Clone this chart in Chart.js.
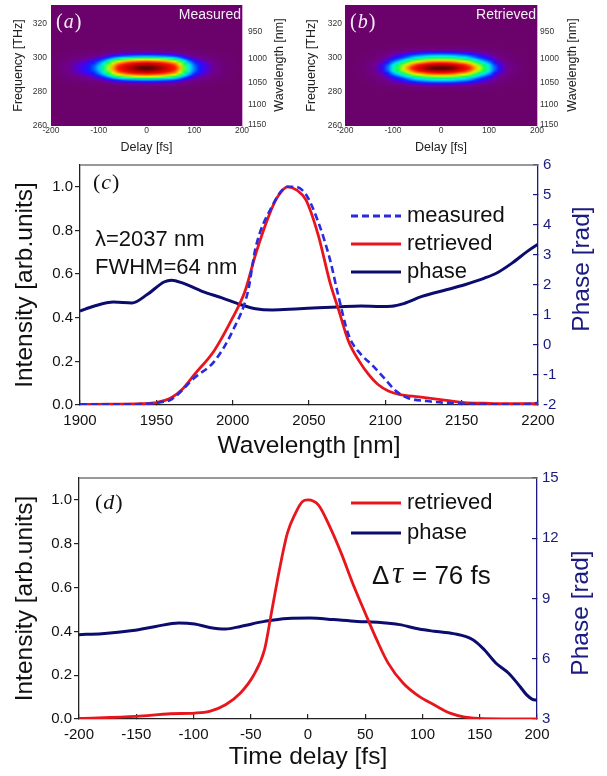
<!DOCTYPE html>
<html>
<head>
<meta charset="utf-8">
<title>FROG traces, spectrum and pulse</title>
<script src="https://cdn.jsdelivr.net/npm/chart.js"></script>
<style>
  body { margin: 0; background: #fff; }
  #page { position: relative; width: 607px; height: 776px; overflow: hidden; background: #fff; }
  canvas { position: absolute; }
</style>
</head>
<body>
<div id="page">
  <canvas id="chartA" width="300" height="155" style="left:0;top:0"></canvas>
  <canvas id="chartB" width="307" height="155" style="left:300px;top:0"></canvas>
  <canvas id="chartC" width="607" height="306" style="left:0;top:155px"></canvas>
  <canvas id="chartD" width="607" height="316" style="left:0;top:460px"></canvas>
</div>
<script>
// ---- (a)/(b) FROG traces: delay profile x frequency profile ----
const heatDelay = [-200, -190, -180, -170, -160, -150, -140, -130, -120, -110, -100, -90, -80, -70, -60, -50, -40, -30, -20, -10,
    0, 10, 20, 30, 40, 50, 60, 70, 80, 90, 100, 110, 120, 130, 140, 150, 160, 170, 180, 190, 200];
const heatFreq = [280, 281, 282, 283, 284, 285, 286, 287, 288, 289, 290, 291, 292, 293, 294,
    295, 296, 297, 298, 299, 300, 301, 302, 303, 304, 305, 306, 307, 308];

const measDelayProfile = [0.02, 0.03, 0.05, 0.08, 0.11, 0.14, 0.17, 0.2, 0.23, 0.28, 0.35, 0.44, 0.56, 0.68, 0.79, 0.85, 0.9, 0.94, 0.97, 0.99,
    1.0, 0.99, 0.97, 0.94, 0.9, 0.85, 0.79, 0.66, 0.52, 0.4, 0.3, 0.24, 0.19, 0.15, 0.11, 0.08, 0.05, 0.03, 0.02, 0.01, 0.0];
const measFreqProfile = [0, 0.01, 0.02, 0.04, 0.08, 0.14, 0.22, 0.32, 0.45, 0.6, 0.74, 0.85, 0.93, 0.98, 1.0,
    0.98, 0.93, 0.85, 0.74, 0.6, 0.45, 0.32, 0.22, 0.14, 0.08, 0.04, 0.02, 0.01, 0];

const retDelayProfile = [0.0, 0.0, 0.01, 0.02, 0.04, 0.07, 0.1, 0.15, 0.21, 0.3, 0.41, 0.49, 0.58, 0.68, 0.78, 0.85, 0.9, 0.95, 0.98, 0.995,
    1.0, 0.995, 0.98, 0.95, 0.9, 0.85, 0.78, 0.68, 0.58, 0.49, 0.41, 0.3, 0.21, 0.15, 0.1, 0.07, 0.04, 0.02, 0.01, 0.0, 0.0];
const retFreqProfile = [0, 0.02, 0.04, 0.08, 0.14, 0.22, 0.3, 0.38, 0.45, 0.56, 0.68, 0.79, 0.9, 0.97, 1.0,
    0.97, 0.9, 0.79, 0.68, 0.56, 0.45, 0.38, 0.3, 0.22, 0.14, 0.08, 0.04, 0.02, 0];

const freqTicks = [260, 280, 300, 320];
const wavelengthTicks = [950, 1000, 1050, 1100, 1150];
const LIGHT_C = 299792.458; // nm * THz

// ---- (c) spectrum ----
const specMeasX = [1900, 1930, 1945, 1952, 1960, 1975, 1988, 2000, 2010, 2015, 2025, 2036, 2041, 2048, 2056, 2064, 2069, 2076, 2084, 2091, 2099, 2107, 2114, 2127, 2152, 2178, 2195, 2200];
const specMeasY = [0.003, 0.003, 0.006, 0.012, 0.026, 0.125, 0.2, 0.34, 0.52, 0.72, 0.9, 1.0, 1.0, 0.965, 0.84, 0.66, 0.507, 0.32, 0.232, 0.186, 0.125, 0.064, 0.034, 0.018, 0.006, 0.003, 0.005, 0.01];

const specRetX = [1900, 1920, 1940, 1950, 1960, 1967, 1975, 1988, 2000, 2008, 2015, 2025, 2030, 2036, 2042, 2048, 2056, 2064, 2069, 2076, 2083, 2089, 2095, 2102, 2109, 2122, 2140, 2152, 2165, 2178, 2200];
const specRetY = [0.003, 0.004, 0.006, 0.011, 0.034, 0.072, 0.14, 0.25, 0.4, 0.52, 0.69, 0.89, 0.96, 1.0, 0.985, 0.94, 0.78, 0.555, 0.445, 0.29, 0.2, 0.14, 0.095, 0.064, 0.049, 0.037, 0.021, 0.011, 0.008, 0.006, 0.006];

const specPhaseX = [1900, 1909, 1922, 1934, 1944, 1955, 1960, 1967, 1980, 1993, 2005, 2015, 2026, 2041, 2056, 2069, 2084, 2097, 2104, 2112, 2124, 2140, 2152, 2165, 2173, 2183, 2193, 2200];
const specPhaseY = [1.13, 1.29, 1.43, 1.40, 1.68, 2.10, 2.16, 2.07, 1.79, 1.57, 1.35, 1.21, 1.17, 1.20, 1.24, 1.27, 1.30, 1.28, 1.29, 1.38, 1.62, 1.84, 2.01, 2.23, 2.40, 2.73, 3.12, 3.36];

// ---- (d) temporal pulse ----
const pulseX = [-200, -150, -120, -99, -86, -72, -59, -48, -38, -32, -25, -18, -11, -5, 0, 9, 19, 29, 39, 50, 60, 70, 83, 97, 110, 124, 137, 154, 200];
const pulseY = [0.003, 0.012, 0.024, 0.027, 0.035, 0.065, 0.119, 0.195, 0.316, 0.483, 0.68, 0.848, 0.939, 0.992, 1.0, 0.977, 0.878, 0.757, 0.62, 0.483, 0.362, 0.255, 0.164, 0.103, 0.065, 0.027, 0.009, 0.0015, 0];

const pulsePhaseX = [-200, -180, -153, -133, -113, -99, -86, -72, -59, -38, -18, 2, 22, 43, 63, 80, 97, 110, 127, 144, 154, 164, 175, 185, 191, 196, 200];
const pulsePhaseY = [7.20, 7.25, 7.41, 7.61, 7.78, 7.73, 7.56, 7.48, 7.61, 7.86, 8.01, 8.03, 7.95, 7.86, 7.81, 7.70, 7.48, 7.37, 7.25, 6.95, 6.45, 5.79, 5.29, 4.63, 4.2, 3.98, 3.93];

// ---- styling ----
const SANS = '"Liberation Sans", Arial, sans-serif';
const SERIF = '"Liberation Serif", "DejaVu Serif", serif';
const RED = '#e8161c';
const DASH_BLUE = '#2a2ade';
const NAVY = '#0c0c6e';
const NAVY_TEXT = '#1a1a80';
const TITLE_SIZE = 24.5;

Chart.defaults.font.family = SANS;

const CMAP = [
    [0.00, [107, 2, 107]],
    [0.10, [112, 0, 140]],
    [0.18, [70, 0, 240]],
    [0.24, [0, 40, 255]],
    [0.32, [0, 160, 255]],
    [0.38, [0, 240, 240]],
    [0.47, [0, 255, 80]],
    [0.59, [225, 255, 0]],
    [0.70, [255, 140, 0]],
    [0.79, [255, 20, 0]],
    [0.91, [200, 0, 0]],
    [1.00, [90, 0, 0]]
];

function colormap(v) {
    v = Math.max(0, Math.min(1, v));
    for (let i = 1; i < CMAP.length; i++) {
        if (v <= CMAP[i][0]) {
            const v0 = CMAP[i - 1][0], c0 = CMAP[i - 1][1];
            const v1 = CMAP[i][0], c1 = CMAP[i][1];
            const t = (v - v0) / (v1 - v0);
            return c0.map((c, k) => Math.round(c + (c1[k] - c) * t));
        }
    }
    return CMAP[CMAP.length - 1][1];
}

function toPoints(xs, ys) {
    return xs.map((x, i) => ({ x: x, y: ys[i] }));
}

// fixed axis sizes, and no extra room for the end labels
function fixWidth(w) {
    return function(scale) { scale.width = w; scale.paddingTop = 0; scale.paddingBottom = 0; };
}
function fixHeight(h) {
    return function(scale) { scale.height = h; scale.paddingLeft = 0; scale.paddingRight = 0; };
}

// "(c)" style label: upright brackets, italic letter
function drawPanelLabel(ctx, letter, x, y, size, color) {
    ctx.fillStyle = color;
    ctx.textBaseline = 'middle';
    ctx.textAlign = 'left';
    ctx.font = size + 'px ' + SERIF;
    ctx.fillText('(', x, y);
    x += ctx.measureText('(').width;
    ctx.font = 'italic ' + size + 'px ' + SERIF;
    ctx.fillText(letter, x + 1, y);
    x += ctx.measureText(letter).width + 2;
    ctx.font = size + 'px ' + SERIF;
    ctx.fillText(')', x, y);
}

function drawVerticalText(ctx, text, x, y, font, color) {
    ctx.save();
    ctx.translate(x, y);
    ctx.rotate(-Math.PI / 2);
    ctx.font = font;
    ctx.fillStyle = color;
    ctx.textAlign = 'center';
    ctx.textBaseline = 'middle';
    ctx.fillText(text, 0, 0);
    ctx.restore();
}

function drawLegendEntry(ctx, y, label, color, dash) {
    ctx.save();
    ctx.strokeStyle = color;
    ctx.lineWidth = 3;
    ctx.setLineDash(dash || []);
    ctx.beginPath();
    ctx.moveTo(351, y);
    ctx.lineTo(401, y);
    ctx.stroke();
    ctx.restore();
    ctx.font = '22px ' + SANS;
    ctx.fillStyle = '#111';
    ctx.textAlign = 'left';
    ctx.textBaseline = 'middle';
    ctx.fillText(label, 407, y);
}

function drawTopBorder(chart) {
    const ctx = chart.ctx, a = chart.chartArea;
    ctx.save();
    ctx.strokeStyle = '#777';
    ctx.lineWidth = 1.3;
    ctx.beginPath();
    ctx.moveTo(a.left, a.top);
    ctx.lineTo(a.right, a.top);
    ctx.stroke();
    ctx.restore();
}

// ---- heatmap panels ----
function heatmapPlugin(delayProfile, freqProfile) {
    return {
        id: 'heatmap',
        beforeDraw(chart) {
            const ctx = chart.ctx, a = chart.chartArea;
            const xs = chart.scales.x, ys = chart.scales.y;
            ctx.save();
            ctx.beginPath();
            ctx.rect(a.left, a.top, a.right - a.left, a.bottom - a.top);
            ctx.clip();
            const bg = colormap(0);
            ctx.fillStyle = 'rgb(' + bg.join(',') + ')';
            ctx.fillRect(a.left, a.top, a.right - a.left, a.bottom - a.top);

            // one pixel per cell, highest frequency on the top row
            const off = document.createElement('canvas');
            off.width = heatDelay.length;
            off.height = heatFreq.length;
            const octx = off.getContext('2d');
            const img = octx.createImageData(off.width, off.height);
            for (let j = 0; j < heatFreq.length; j++) {
                const row = heatFreq.length - 1 - j;
                for (let i = 0; i < heatDelay.length; i++) {
                    const c = colormap(delayProfile[i] * freqProfile[j]);
                    const k = (row * off.width + i) * 4;
                    img.data[k] = c[0];
                    img.data[k + 1] = c[1];
                    img.data[k + 2] = c[2];
                    img.data[k + 3] = 255;
                }
            }
            octx.putImageData(img, 0, 0);

            const dStep = heatDelay[1] - heatDelay[0];
            const fStep = heatFreq[1] - heatFreq[0];
            const x0 = xs.getPixelForValue(heatDelay[0] - dStep / 2);
            const x1 = xs.getPixelForValue(heatDelay[heatDelay.length - 1] + dStep / 2);
            const y0 = ys.getPixelForValue(heatFreq[heatFreq.length - 1] + fStep / 2);
            const y1 = ys.getPixelForValue(heatFreq[0] - fStep / 2);
            ctx.imageSmoothingEnabled = true;
            ctx.imageSmoothingQuality = 'high';
            ctx.drawImage(off, x0, y0, x1 - x0, y1 - y0);
            ctx.restore();
        }
    };
}

function heatLabelsPlugin(letter, name, rightTitleX) {
    return {
        id: 'heatLabels',
        afterDraw(chart) {
            const ctx = chart.ctx, a = chart.chartArea;
            ctx.save();
            drawPanelLabel(ctx, letter, a.left + 5, 23, 20, '#f6eef6');
            ctx.font = '14px ' + SANS;
            ctx.fillStyle = '#f6eef6';
            ctx.textAlign = 'right';
            ctx.textBaseline = 'middle';
            ctx.fillText(name, a.right - 1, 15);
            drawVerticalText(ctx, 'Wavelength [nm]', rightTitleX, 65, '12.5px ' + SANS, '#222');
            ctx.restore();
        }
    };
}

function createHeatChart(id, delayProfile, freqProfile, letter, name, dims) {
    const tickFont = { size: 8.5 };
    return new Chart(document.getElementById(id), {
        type: 'scatter',
        data: { datasets: [{ data: [] }] },
        options: {
            responsive: false,
            animation: false,
            layout: { padding: { top: 5, right: dims.padRight, left: 0, bottom: 0 } },
            plugins: { legend: { display: false }, tooltip: { enabled: false } },
            scales: {
                x: {
                    type: 'linear', min: -200, max: 200,
                    ticks: { stepSize: 100, font: tickFont, color: '#333', padding: 0, callback: v => v },
                    grid: { display: false, drawTicks: false },
                    border: { display: false },
                    title: { display: true, text: 'Delay [fs]', font: { size: 12.5 }, color: '#222', padding: 0 },
                    afterFit: fixHeight(29)
                },
                y: {
                    type: 'linear', position: 'left', min: 260, max: 331,
                    afterBuildTicks: s => { s.ticks = freqTicks.map(v => ({ value: v })); },
                    ticks: { font: tickFont, color: '#333', padding: dims.leftPad, callback: v => v },
                    grid: { display: false, drawTicks: false },
                    border: { display: false },
                    title: { display: true, text: 'Frequency [THz]', font: { size: 12.5 }, color: '#222', padding: { top: dims.leftTitlePad, bottom: 0 } },
                    afterFit: fixWidth(dims.leftWidth)
                },
                y2: {
                    type: 'linear', position: 'right', min: 260, max: 331,
                    afterBuildTicks: s => { s.ticks = wavelengthTicks.map(w => ({ value: LIGHT_C / w })); },
                    ticks: { font: tickFont, color: '#333', padding: dims.rightPad, callback: v => Math.round(LIGHT_C / v) },
                    grid: { display: false, drawTicks: false },
                    border: { display: true, color: '#dca6dc', width: 1 },
                    afterFit: fixWidth(58)
                }
            }
        },
        plugins: [heatmapPlugin(delayProfile, freqProfile), heatLabelsPlugin(letter, name, dims.rightTitleX)]
    });
}

createHeatChart('chartA', measDelayProfile, measFreqProfile, 'a', 'Measured',
    { leftWidth: 51, leftPad: 4, leftTitlePad: 11, rightPad: 6, padRight: 0, rightTitleX: 280 });
createHeatChart('chartB', retDelayProfile, retFreqProfile, 'b', 'Retrieved',
    { leftWidth: 45, leftPad: 3, leftTitlePad: 4, rightPad: 3, padRight: 12, rightTitleX: 273 });

// ---- line panels ----
function lineScales(xOpts, y2Opts, dims) {
    return {
        x: {
            type: 'linear', min: xOpts.min, max: xOpts.max,
            ticks: { stepSize: xOpts.step, font: { size: 15 }, color: '#111', padding: 12, callback: v => v },
            grid: { display: true, drawOnChartArea: false, drawTicks: true, tickLength: -5, color: '#222', lineWidth: 1.2 },
            border: { color: '#222', width: 1.3 },
            title: { display: true, text: xOpts.title, font: { size: TITLE_SIZE }, color: '#111', padding: { top: 0, bottom: dims.xTitlePad } },
            afterFit: fixHeight(dims.xHeight)
        },
        y: {
            type: 'linear', position: 'left', min: 0, max: 1.1,
            ticks: { stepSize: 0.2, includeBounds: false, font: { size: 15 }, color: '#111', padding: 2, callback: v => v.toFixed(1) },
            grid: { display: true, drawOnChartArea: false, drawTicks: true, tickLength: 5, color: '#222', lineWidth: 1.2 },
            border: { color: '#222', width: 1.3 },
            title: { display: true, text: 'Intensity [arb.units]', font: { size: TITLE_SIZE }, color: '#111', padding: { top: 11, bottom: 0 } },
            afterFit: fixWidth(dims.leftWidth)
        },
        y2: {
            type: 'linear', position: 'right', min: y2Opts.min, max: y2Opts.max,
            ticks: { stepSize: y2Opts.step, includeBounds: false, font: { size: 15 }, color: NAVY_TEXT, padding: 10, callback: v => v },
            grid: { display: true, drawOnChartArea: false, drawTicks: true, tickLength: -5, color: NAVY_TEXT, lineWidth: 1.2 },
            border: { color: NAVY_TEXT, width: 1.3 },
            afterFit: fixWidth(dims.rightWidth)
        }
    };
}

function lineSet(label, xs, ys, color, width, axis, dash) {
    return {
        label: label,
        data: toPoints(xs, ys),
        borderColor: color,
        borderWidth: width,
        borderDash: dash || [],
        yAxisID: axis,
        pointRadius: 0,
        fill: false,
        cubicInterpolationMode: 'monotone'
    };
}

// (c) spectrum
new Chart(document.getElementById('chartC'), {
    type: 'line',
    data: {
        datasets: [
            lineSet('measured', specMeasX, specMeasY, DASH_BLUE, 2.6, 'y', [7, 4]),
            lineSet('retrieved', specRetX, specRetY, RED, 2.8, 'y'),
            lineSet('phase', specPhaseX, specPhaseY, NAVY, 3, 'y2')
        ]
    },
    options: {
        responsive: false,
        animation: false,
        layout: { padding: { top: 10, right: 12, left: 0, bottom: 0 } },
        plugins: { legend: { display: false }, tooltip: { enabled: false } },
        scales: lineScales({ min: 1900, max: 2200, step: 50, title: 'Wavelength [nm]' },
            { min: -2, max: 6, step: 1 },
            { leftWidth: 80, rightWidth: 57, xHeight: 56, xTitlePad: 0 })
    },
    plugins: [{
        id: 'notesC',
        afterDraw(chart) {
            const ctx = chart.ctx;
            drawTopBorder(chart);
            ctx.save();
            drawPanelLabel(ctx, 'c', 93, 28, 22, '#111');
            ctx.font = '22px ' + SANS;
            ctx.fillStyle = '#111';
            ctx.textAlign = 'left';
            ctx.textBaseline = 'middle';
            ctx.fillText('λ=2037 nm', 95, 85);
            ctx.fillText('FWHM=64 nm', 95, 113);
            drawLegendEntry(ctx, 61, 'measured', DASH_BLUE, [7, 4]);
            drawLegendEntry(ctx, 89, 'retrieved', RED);
            drawLegendEntry(ctx, 117, 'phase', NAVY);
            drawVerticalText(ctx, 'Phase [rad]', 582, 114, TITLE_SIZE + 'px ' + SANS, NAVY_TEXT);
            ctx.restore();
        }
    }]
});

// (d) temporal profile
new Chart(document.getElementById('chartD'), {
    type: 'line',
    data: {
        datasets: [
            lineSet('retrieved', pulseX, pulseY, RED, 2.8, 'y'),
            lineSet('phase', pulsePhaseX, pulsePhaseY, NAVY, 3, 'y2')
        ]
    },
    options: {
        responsive: false,
        animation: false,
        layout: { padding: { top: 18, right: 12, left: 0, bottom: 0 } },
        plugins: { legend: { display: false }, tooltip: { enabled: false } },
        scales: lineScales({ min: -200, max: 200, step: 50, title: 'Time delay [fs]' },
            { min: 3, max: 15, step: 3 },
            { leftWidth: 79, rightWidth: 58, xHeight: 57, xTitlePad: 4 })
    },
    plugins: [{
        id: 'notesD',
        afterDraw(chart) {
            const ctx = chart.ctx;
            drawTopBorder(chart);
            ctx.save();
            drawPanelLabel(ctx, 'd', 95, 43, 22, '#111');
            drawLegendEntry(ctx, 43, 'retrieved', RED);
            drawLegendEntry(ctx, 73, 'phase', NAVY);
            // pulse duration note
            ctx.fillStyle = '#111';
            ctx.textBaseline = 'middle';
            ctx.textAlign = 'left';
            ctx.font = '26px ' + SANS;
            ctx.fillText('Δ', 372, 117);
            ctx.font = 'italic 31px ' + SERIF;
            ctx.fillText('τ', 392, 115);
            ctx.font = '26px ' + SANS;
            ctx.fillText('= 76 fs', 412, 117);
            drawVerticalText(ctx, 'Phase [rad]', 581, 153, TITLE_SIZE + 'px ' + SANS, NAVY_TEXT);
            ctx.restore();
        }
    }]
});
</script>
</body>
</html>
